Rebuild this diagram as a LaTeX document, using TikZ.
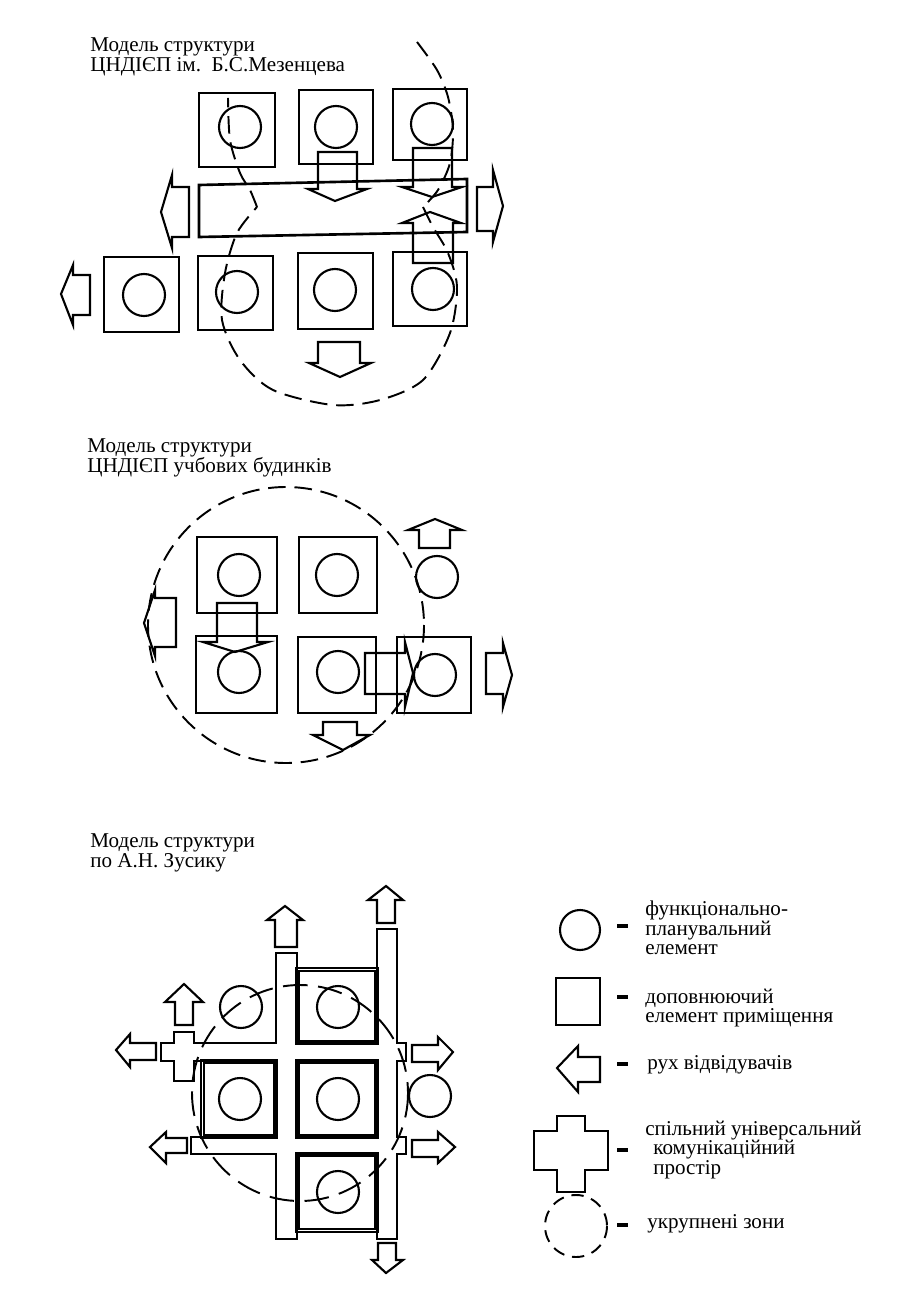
\documentclass[tikz,border=0pt]{standalone}
\usepackage{fontspec}
\setmainfont{Liberation Serif}
\begin{document}
\begin{tikzpicture}[x=0.02cm,y=-0.02cm,
    room/.style={line width=1.5pt},
    inner/.style={line width=0.6pt},
    elem/.style={line width=1.2pt},
    flow/.style={line width=1.2pt,line join=miter},
    zone/.style={line width=1.1pt,dash pattern=on 10pt off 5pt},
    hall/.style={line width=2.6pt},
    bar/.style={line width=2pt},
    title/.style={anchor=north west,inner sep=0pt,align=left,font=\fontsize{12}{11.5}\selectfont},
    legend/.style={anchor=west,inner sep=0pt,align=left,font=\fontsize{12}{11}\selectfont}]
        \useasboundingbox (0,0) rectangle (913,1310);

        \node[title] (head1) at (90,37) {Модель структури\\ЦНДІЄП ім.\ \ Б.С.Мезенцева};
        \draw[room] (199,93) rectangle (275,167);
        \draw[room] (299,90) rectangle (373,164);
        \draw[room] (393,89) rectangle (467,160);
        \draw[elem] (240,127) circle (21);
        \draw[elem] (336,127) circle (21);
        \draw[elem] (432,124) circle (21);
        \draw[room] (199,185) -- (467,179) -- (467,232) -- (199,237) -- cycle;
        \draw[room] (104,257) rectangle (179,332);
        \draw[room] (198,256) rectangle (273,330);
        \draw[room] (298,253) rectangle (373,329);
        \draw[room] (393,252) rectangle (467,326);
        \draw[elem] (144,295) circle (21);
        \draw[elem] (237,292) circle (21);
        \draw[elem] (335,290) circle (21);
        \draw[elem] (433,289) circle (21);
        \draw[flow] (318,152) -- (357,152) -- (357,189) -- (367,189) -- (335,201) -- (308,189) -- (318,189) -- cycle;
        \draw[flow] (413,148) -- (452,148) -- (452,187) -- (462,187) -- (432,197) -- (402,187) -- (413,187) -- cycle;
        \draw[flow] (413,263) -- (453,263) -- (453,223) -- (461,223) -- (430,212) -- (402,223) -- (413,223) -- cycle;
        \draw[flow] (189,187) -- (189,237) -- (172,237) -- (172,248) -- (161,212) -- (172,175) -- (172,187) -- cycle;
        \draw[flow] (477,187) -- (477,231) -- (493,231) -- (493,242) -- (503,206) -- (493,170) -- (493,187) -- cycle;
        \draw[flow] (90,275) -- (90,315) -- (73,315) -- (73,325) -- (61,294) -- (73,265) -- (73,275) -- cycle;
        \draw[flow] (318,342) -- (360,342) -- (360,363) -- (371,363) -- (340,377) -- (309,363) -- (318,363) -- cycle;
        \draw[zone] plot[smooth] coordinates {(417,42) (437,70) (448,97) (453,130) (450,163) (438,190) (423,207)};
        \draw[zone] plot[smooth] coordinates {(423,207) (433,227) (448,253) (457,287) (450,333) (423,380) (380,400) (333,405) (273,390) (240,360) (222,320) (225,273) (237,233) (257,207)};
        \draw[zone] plot[smooth] coordinates {(257,207) (250,190) (240,173) (230,140) (228,98)};

        \node[title] (head2) at (87,438) {Модель структури\\ЦНДІЄП учбових будинків};
        \draw[room] (197,537) rectangle (277,613);
        \draw[room] (299,537) rectangle (377,613);
        \draw[room] (196,636) rectangle (277,713);
        \draw[room] (298,637) rectangle (376,713);
        \draw[room] (397,637) rectangle (471,713);
        \draw[elem] (239,575) circle (21);
        \draw[elem] (337,575) circle (21);
        \draw[elem] (437,577) circle (21);
        \draw[elem] (239,672) circle (21);
        \draw[elem] (338,672) circle (21);
        \draw[elem] (435,675) circle (21);
        \draw[flow] (419,548) -- (450,548) -- (450,530) -- (462,530) -- (435,519) -- (408,530) -- (419,530) -- cycle;
        \draw[flow] (176,598) -- (176,647) -- (155,647) -- (155,656) -- (144,623) -- (155,590) -- (155,598) -- cycle;
        \draw[flow] (217,603) -- (257,603) -- (257,642) -- (268,642) -- (235,652) -- (203,642) -- (217,642) -- cycle;
        \draw[flow] (365,653) -- (405,653) -- (405,642) -- (413,673) -- (405,707) -- (405,694) -- (365,694) -- cycle;
        \draw[flow] (486,653) -- (503,653) -- (503,643) -- (512,675) -- (503,707) -- (503,694) -- (486,694) -- cycle;
        \draw[flow] (323,722) -- (357,722) -- (357,735) -- (370,735) -- (343,750) -- (313,735) -- (323,735) -- cycle;
        \draw[zone] (286,625) circle (138);

        \node[title] (head3) at (90,833) {Модель структури\\по А.Н. Зусику};
        \draw[hall] (277,954) rectangle (296,1238);
        \draw[hall] (378,930) rectangle (396,1238);
        \draw[hall] (162,1044) rectangle (405,1060);
        \draw[hall] (192,1138) rectangle (405,1153);
        \draw[hall] (175,1033) rectangle (193,1080);
        \fill[white] (277,954) rectangle (296,1238);
        \fill[white] (378,930) rectangle (396,1238);
        \fill[white] (162,1044) rectangle (405,1060);
        \fill[white] (192,1138) rectangle (405,1153);
        \fill[white] (175,1033) rectangle (193,1080);
        \draw[room] (296,968) rectangle (378,1044);
        \draw[room] (201,1060) rectangle (277,1138);
        \draw[room] (296,1060) rectangle (378,1138);
        \draw[room] (296,1153) rectangle (378,1232);
        \draw[inner] (299,971) rectangle (375,1041);
        \draw[inner] (204,1063) rectangle (274,1135);
        \draw[inner] (299,1063) rectangle (375,1135);
        \draw[inner] (299,1156) rectangle (375,1229);
        \draw[elem] (241,1007) circle (21);
        \draw[elem] (338,1007) circle (21);
        \draw[elem] (240,1099) circle (21);
        \draw[elem] (338,1099) circle (21);
        \draw[elem] (430,1096) circle (21);
        \draw[elem] (338,1192) circle (21);
        \draw[flow] (275,947) -- (297,947) -- (297,920) -- (303,920) -- (285,906) -- (267,920) -- (275,920) -- cycle;
        \draw[flow] (377,923) -- (395,923) -- (395,900) -- (403,900) -- (386,886) -- (368,900) -- (377,900) -- cycle;
        \draw[flow] (175,1025) -- (193,1025) -- (193,1002) -- (203,1002) -- (184,984) -- (165,1002) -- (175,1002) -- cycle;
        \draw[flow] (156,1043) -- (156,1060) -- (130,1060) -- (130,1067) -- (116,1050) -- (130,1034) -- (130,1043) -- cycle;
        \draw[flow] (187,1138) -- (187,1153) -- (166,1153) -- (166,1163) -- (150,1147) -- (166,1132) -- (166,1138) -- cycle;
        \draw[flow] (412,1045) -- (438,1045) -- (438,1037) -- (453,1052) -- (438,1070) -- (438,1062) -- (412,1062) -- cycle;
        \draw[flow] (412,1140) -- (438,1140) -- (438,1132) -- (455,1147) -- (438,1163) -- (438,1157) -- (412,1157) -- cycle;
        \draw[flow] (378,1243) -- (396,1243) -- (396,1260) -- (403,1260) -- (386,1273) -- (372,1260) -- (378,1260) -- cycle;
        \draw[zone,dash pattern=on 14pt off 6pt] (300,1093) circle (108);

        \draw[elem] (580,930) circle (20);
        \draw[room] (556,978) rectangle (600,1025);
        \draw[flow] (600,1057) -- (600,1082) -- (578,1082) -- (578,1092) -- (557,1068) -- (578,1046) -- (578,1057) -- cycle;
        \draw[flow] (557,1116) -- (585,1116) -- (585,1131) -- (608,1131) -- (608,1170) -- (585,1170) -- (585,1192) -- (557,1192) -- (557,1170) -- (534,1170) -- (534,1131) -- (557,1131) -- cycle;
        \draw[zone,dash pattern=on 7pt off 4.5pt] (576,1226) circle (31);
        \draw[bar] (617,926) -- (628,926);
        \draw[bar] (617,997) -- (628,997);
        \draw[bar] (617,1064) -- (628,1064);
        \draw[bar] (617,1150) -- (628,1150);
        \draw[bar] (617,1225) -- (628,1225);
        \node[legend] (leg1) at (645,928) {функціонально-\\планувальний\\елемент};
        \node[legend] (leg2) at (645,1008) {доповнюючий\\елемент приміщення};
        \node[legend] (leg3) at (647,1065) {рух відвідувачів};
        \node[legend] (leg4) at (645,1150) {спільний універсальний\\\hspace*{0.16cm}комунікаційний\\\hspace*{0.16cm}простір};
        \node[legend] (leg5) at (647,1224) {укрупнені зони};
    \end{tikzpicture}
\end{document}
